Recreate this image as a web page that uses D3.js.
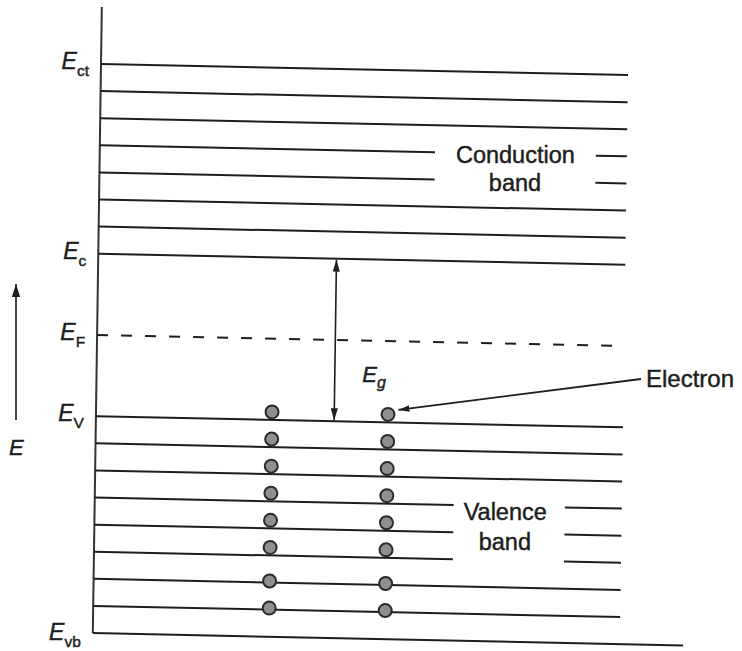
<!DOCTYPE html>
<html><head><meta charset="utf-8">
<script src="https://cdn.jsdelivr.net/npm/d3@7"></script>
<style>html,body{margin:0;padding:0;background:#fff;} svg{display:block;} text{stroke:#1e1e1e;stroke-width:0.45px;}</style>
</head><body><div id="chart"></div>
<script>
// ---- data (energy levels in units of level spacing) ----
const conductionLevels = [21, 20, 19, 18, 17, 16, 15, 14];
const valenceLevels = [8, 7, 6, 5, 4, 3, 2, 1];
const bottomLevel = 0;
const fermiLevel = 11;
const conductionEdge = 14;
const valenceEdge = 8;
const levelLabels = [
  { main: "E", sub: "ct", level: 21 },
  { main: "E", sub: "c",  level: 14 },
  { main: "E", sub: "F",  level: 11 },
  { main: "E", sub: "V",  level: 8 },
  { main: "E", sub: "vb", level: 0 }
];
const conductionTextLevels = [18, 17];
const conductionText = ["Conduction", "band"];
const valenceTextLevels = [5, 4, 3];
const valenceText = ["Valence", "band"];
const electronLevels = [8, 7, 6, 5, 4, 3, 2, 1];
const electronColumns = [0, 1];
const gapLabel = { main: "E", sub: "g" };
const electronLabel = "Electron";
const axisLabel = "E";

// ---- layout ----
const W = 742, H = 651;
const FONT = "'Liberation Sans', Arial, Helvetica, sans-serif";
const ink = "#1e1e1e";
const svg = d3.select("#chart").append("svg").attr("width", W).attr("height", H)
  .style("background", "#fff");

const yScale = d3.scaleLinear().domain([0, 21]).range([633, 64]);
const xScale = d3.scaleLinear().domain([0, 1]).range([101, 628]);
const colX = d3.scaleOrdinal().domain(electronColumns).range([0.334, 0.554]);

// slight tilt of the scanned drawing
const SK = 0.021, SH = -0.0144, PX = 100, PY = 64;
function toPx(X, Y) {
  const dx = X - PX, dy = Y - PY;
  return [PX + dx + SH * dy, PY + SK * dx + dy];
}
const defs = svg.append("defs");
function marker(id, len, hw) {
  defs.append("marker").attr("id", id).attr("markerUnits", "userSpaceOnUse")
    .attr("viewBox", `0 ${-hw} ${len} ${2 * hw}`).attr("refX", len).attr("refY", 0)
    .attr("markerWidth", len).attr("markerHeight", 2 * hw).attr("orient", "auto-start-reverse")
    .append("path").attr("d", `M0,${-hw}L${len},0L0,${hw}Z`).attr("fill", ink);
}
marker("ahead", 12, 3.6);
marker("ahead2", 11, 3.2);
marker("ahead3", 13, 4.2);

const g = svg.append("g")
  .attr("transform", `translate(${PX},${PY}) matrix(1,${SK},${SH},1,0,0) translate(${-PX},${-PY})`);

// vertical axis
g.append("line").attr("x1", xScale(0)).attr("x2", xScale(0)).attr("y1", 7).attr("y2", yScale(bottomLevel))
  .attr("stroke", "#333").attr("stroke-width", 2);

function drawLevels(levels, broken, gapFrom, gapTo) {
  levels.forEach(l => {
    const y = yScale(l);
    const segs = broken.includes(l) ? [[0, gapFrom], [gapTo, 1]] : [[0, 1]];
    segs.forEach(([a, b]) => {
      g.append("line").attr("x1", xScale(a)).attr("x2", xScale(b)).attr("y1", y).attr("y2", y)
        .attr("stroke", ink).attr("stroke-width", 2);
    });
  });
}
drawLevels(conductionLevels, conductionTextLevels, 0.636, 0.941);
drawLevels(valenceLevels, valenceTextLevels, 0.681, 0.892);
// bottom of valence band
g.append("line").attr("x1", xScale(0)).attr("x2", xScale(1.12))
  .attr("y1", yScale(bottomLevel)).attr("y2", yScale(bottomLevel))
  .attr("stroke", ink).attr("stroke-width", 2);

// Fermi level (dashed)
g.append("line").attr("x1", xScale(0)).attr("x2", xScale(1))
  .attr("y1", yScale(fermiLevel)).attr("y2", yScale(fermiLevel))
  .attr("stroke", ink).attr("stroke-width", 2).attr("stroke-dasharray", "11,13");

// band gap arrow
const gx = xScale(0.452);
g.append("line").attr("x1", gx).attr("x2", gx)
  .attr("y1", yScale(conductionEdge) + 1).attr("y2", yScale(valenceEdge) - 1)
  .attr("stroke", ink).attr("stroke-width", 1.6)
  .attr("marker-start", "url(#ahead)").attr("marker-end", "url(#ahead)");

// electrons
const R = 6.5;
electronColumns.forEach(c => {
  electronLevels.forEach(l => {
    const off = l >= 3 ? -(R + 1.5) : -1.5;
    g.append("circle").attr("cx", xScale(colX(c))).attr("cy", yScale(l) + off).attr("r", R)
      .attr("fill", "#8f8f8f").attr("stroke", "#2a2a2a").attr("stroke-width", 2);
  });
});

// ---- texts (in page coordinates) ----
levelLabels.forEach(d => {
  const [x, y] = toPx(xScale(0), yScale(d.level));
  const t = svg.append("text").attr("x", x - 12).attr("y", y + (d.level === 0 ? 7 : 5))
    .attr("text-anchor", "end").attr("font-family", FONT).attr("fill", ink);
  t.append("tspan").attr("font-size", 23).attr("font-style", "italic").text(d.main);
  t.append("tspan").attr("font-size", 15.5).attr("dy", 7).text(d.sub);
});

// conduction band label
{
  const cx = xScale((0.636 + 0.941) / 2);
  conductionText.forEach((s, i) => {
    const [x, y] = toPx(cx, yScale(conductionTextLevels[i]));
    svg.append("text").attr("x", x).attr("y", y + 8.5 + i).attr("text-anchor", "middle")
      .attr("font-family", FONT).attr("font-size", 23.5).attr("fill", ink).text(s);
  });
}
// valence band label
{
  const cx = xScale((0.681 + 0.892) / 2);
  valenceText.forEach((s, i) => {
    const [x, y] = toPx(cx, yScale(valenceTextLevels[i]));
    svg.append("text").attr("x", x - 4).attr("y", y + 14 + i * 2.5).attr("text-anchor", "middle")
      .attr("font-family", FONT).attr("font-size", 23.5).attr("fill", ink).text(s);
  });
}

// E_g label
{
  const [x, y] = toPx(gx, yScale(fermiLevel));
  const t = svg.append("text").attr("x", x + 27).attr("y", y + 42).attr("font-family", FONT).attr("fill", ink);
  t.append("tspan").attr("font-size", 22).attr("font-style", "italic").text(gapLabel.main);
  t.append("tspan").attr("font-size", 16).attr("font-style", "italic").attr("dy", 6).text(gapLabel.sub);
}

// Electron label + arrow
{
  const [ex, ey] = toPx(xScale(colX(1)), yScale(valenceEdge) - (R + 1.5));
  const sx = 641, sy = 379;
  const dx = sx - ex, dy = sy - ey, len = Math.hypot(dx, dy);
  const tx = ex + dx / len * (R + 4), ty = ey + dy / len * (R + 4) - 3;
  svg.append("line").attr("x1", sx).attr("y1", sy).attr("x2", tx).attr("y2", ty)
    .attr("stroke", ink).attr("stroke-width", 1.8).attr("marker-end", "url(#ahead2)");
  svg.append("text").attr("x", sx + 5).attr("y", sy + 8).attr("font-family", FONT)
    .attr("font-size", 24).attr("fill", ink).text(electronLabel);
}

// energy axis arrow + label
svg.append("line").attr("x1", 16).attr("x2", 16).attr("y1", 420).attr("y2", 284)
  .attr("stroke", "#333").attr("stroke-width", 1.8).attr("marker-end", "url(#ahead3)");
svg.append("text").attr("x", 9).attr("y", 455).attr("font-family", FONT).attr("font-size", 22)
  .attr("font-style", "italic").attr("fill", ink).text(axisLabel);
</script>
</body></html>
